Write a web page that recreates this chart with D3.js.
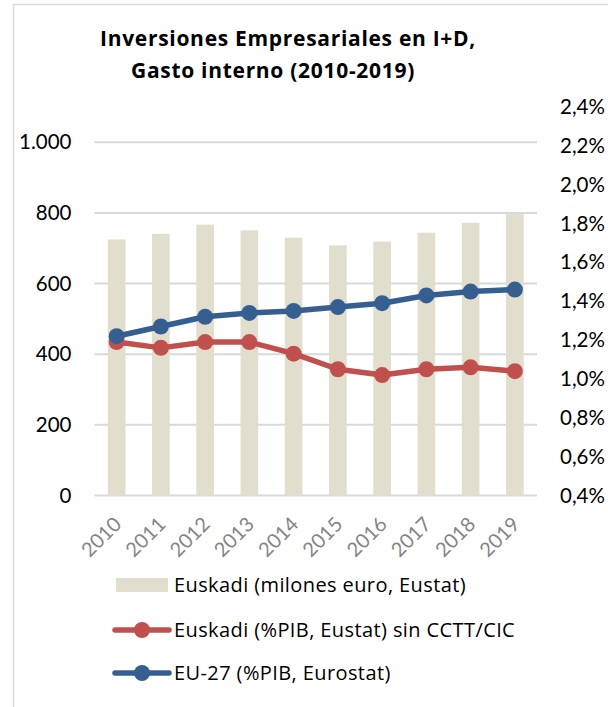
<!DOCTYPE html>
<html>
<head>
<meta charset="utf-8">
<script src="https://cdn.jsdelivr.net/npm/d3@7"></script>
<style>
    body { margin: 0; background: #fff; }
    text { font-family: Lato, "Open Sans", sans-serif; }
</style>
</head>
<body>
<div id="chart"></div>
<script>

const years = ['2010', '2011', '2012', '2013', '2014', '2015', '2016', '2017', '2018', '2019'];
// Euskadi, millones de euro (barras, eje izquierdo)
const gastoMillones = [725, 741, 767, 751, 730, 708, 719, 744, 772, 797];
// % PIB (lineas, eje derecho)
const euskadiPib = [1.19, 1.16, 1.19, 1.19, 1.13, 1.05, 1.02, 1.05, 1.06, 1.04];
const eu27Pib = [1.22, 1.27, 1.32, 1.34, 1.35, 1.37, 1.39, 1.43, 1.45, 1.46];

const leftTicks = [0, 200, 400, 600, 800, 1000];
const rightTicks = [0.4, 0.6, 0.8, 1.0, 1.2, 1.4, 1.6, 1.8, 2.0, 2.2, 2.4];

const titleLines = ['Inversiones Empresariales en I+D,', 'Gasto interno (2010-2019)'];
const legendLabels = ['Euskadi (milones euro, Eustat)', 'Euskadi (%PIB, Eustat) sin CCTT/CIC', 'EU-27 (%PIB, Eurostat)'];

const width = 608;
const height = 707;
const plot = {left: 94.5, right: 537, top: 107, bottom: 495.5};

const barColor = '#e1decd';
const red = '#c0504d';
const blue = '#365f91';
const grid = '#d9d9d9';

const es = d3.formatLocale({decimal: ',', thousands: '.', grouping: [3], currency: ['', ' €']});
const fmtLeft = es.format(',');
const fmtRight = function(d) { return es.format('.1f')(d) + '%'; };

const svg = d3.select('#chart')
    .append('svg')
    .attr('width', width)
    .attr('height', height);

svg.append('rect')
    .attr('x', 13.5)
    .attr('y', 4.5)
    .attr('width', 640)
    .attr('height', 740)
    .attr('fill', '#fff')
    .attr('stroke', grid)
    .attr('stroke-width', 1.5);

const x = d3.scaleBand()
    .domain(years)
    .range([plot.left, plot.right])
    .paddingInner(0.6)
    .paddingOuter(0.3);

const yLeft = d3.scaleLinear()
    .domain([0, 1100])
    .range([plot.bottom, plot.top]);

const yRight = d3.scaleLinear()
    .domain([0.4, 2.4])
    .range([plot.bottom, plot.top]);

const cx = function(d, i) { return x(years[i]) + x.bandwidth() / 2; };

// titulo
svg.append('g')
    .selectAll('text')
    .data(titleLines)
    .enter()
    .append('text')
    .attr('x', (d, i) => i === 0 ? 288 : 273)
    .attr('y', (d, i) => 46 + i * 32)
    .attr('text-anchor', 'middle')
    .attr('font-weight', 'bold')
    .attr('font-size', '21px')
    .attr('letter-spacing', '0.7px')
    .attr('fill', '#000')
    .style('font-family', '"Open Sans", sans-serif')
    .text(d => d);

// lineas de rejilla
svg.append('g')
    .selectAll('line')
    .data(leftTicks)
    .enter()
    .append('line')
    .attr('x1', plot.left)
    .attr('x2', plot.right)
    .attr('y1', d => yLeft(d))
    .attr('y2', d => yLeft(d))
    .attr('stroke', grid)
    .attr('stroke-width', 2);

// eje izquierdo
const axL = svg.append('g')
    .attr('transform', 'translate(' + (plot.left - 23) + ',0)')
    .call(d3.axisLeft(yLeft).tickValues(leftTicks).tickFormat(fmtLeft).tickSize(0).tickPadding(0));
axL.select('.domain').remove();
axL.selectAll('text')
    .attr('font-size', '20.5px')
    .attr('fill', '#000')
    .style('font-family', 'Lato, sans-serif');

// eje derecho
const axR = svg.append('g')
    .attr('transform', 'translate(' + 560 + ',0)')
    .call(d3.axisRight(yRight).tickValues(rightTicks).tickFormat(fmtRight).tickSize(0).tickPadding(0));
axR.select('.domain').remove();
axR.selectAll('text')
    .attr('font-size', '20.5px')
    .attr('fill', '#000')
    .style('font-family', 'Lato, sans-serif');

// barras
svg.append('g')
    .selectAll('rect')
    .data(gastoMillones)
    .enter()
    .append('rect')
    .attr('x', (d, i) => x(years[i]))
    .attr('y', d => yLeft(d))
    .attr('width', x.bandwidth())
    .attr('height', d => plot.bottom - yLeft(d))
    .attr('fill', barColor);

// eje x
const axX = svg.append('g')
    .attr('transform', 'translate(0,' + plot.bottom + ')')
    .call(d3.axisBottom(x).tickSize(0));
axX.select('.domain').remove();
axX.selectAll('text')
    .attr('y', 0)
    .attr('dy', 0)
    .attr('text-anchor', 'end')
    .attr('transform', 'translate(6,30) rotate(-45)')
    .attr('font-size', '20px')
    .attr('fill', '#858585')
    .style('font-family', 'Lato, sans-serif');

// lineas
const line = d3.line()
    .x((d, i) => cx(d, i))
    .y(d => yRight(d));

const series = [
    {values: euskadiPib, color: red},
    {values: eu27Pib, color: blue}
];

series.forEach(function(s) {
    const g = svg.append('g');
    g.append('path')
        .datum(s.values)
        .attr('d', line)
        .attr('fill', 'none')
        .attr('stroke', s.color)
        .attr('stroke-width', 5.5)
        .attr('stroke-linejoin', 'round');
    g.selectAll('circle')
        .data(s.values)
        .enter()
        .append('circle')
        .attr('cx', (d, i) => cx(d, i))
        .attr('cy', d => yRight(d))
        .attr('r', 8)
        .attr('fill', s.color);
});

// leyenda
const legend = svg.append('g');
const legendY = [585, 630, 673];

legend.append('rect')
    .attr('x', 116)
    .attr('y', legendY[0] - 7)
    .attr('width', 52)
    .attr('height', 14)
    .attr('fill', barColor);

[red, blue].forEach(function(c, i) {
    legend.append('line')
        .attr('x1', 115)
        .attr('x2', 169)
        .attr('y1', legendY[i + 1])
        .attr('y2', legendY[i + 1])
        .attr('stroke', c)
        .attr('stroke-width', 5.5)
        .attr('stroke-linecap', 'round');
    legend.append('circle')
        .attr('cx', 142)
        .attr('cy', legendY[i + 1])
        .attr('r', 8)
        .attr('fill', c);
});

legend.selectAll('text')
    .data(legendLabels)
    .enter()
    .append('text')
    .attr('x', 174)
    .attr('y', (d, i) => legendY[i])
    .attr('dy', '0.36em')
    .attr('font-size', '20px')
    .attr('letter-spacing', '0.4px')
    .attr('fill', '#000')
    .style('font-family', '"Open Sans", sans-serif')
    .text(d => d);

</script>
</body>
</html>
